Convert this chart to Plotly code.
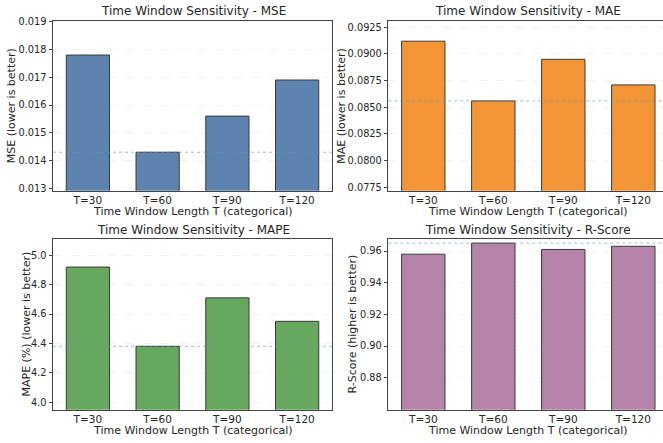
import plotly.graph_objects as go

# ---- data ----
categories = ["T=30", "T=60", "T=90", "T=120"]
mse_values = [0.0178, 0.0143, 0.0156, 0.0169]
mae_values = [0.0912, 0.0856, 0.0895, 0.0871]
mape_values = [4.92, 4.38, 4.71, 4.55]
rscore_values = [0.958, 0.965, 0.961, 0.963]

mse_ticks = [0.013, 0.014, 0.015, 0.016, 0.017, 0.018, 0.019]
mae_ticks = [0.0775, 0.0800, 0.0825, 0.0850, 0.0875, 0.0900, 0.0925]
mape_ticks = [4.0, 4.2, 4.4, 4.6, 4.8, 5.0]
rscore_ticks = [0.88, 0.90, 0.92, 0.94, 0.96]

W, H = 663, 443
FONT = "DejaVu Sans"
TXT = "#262626"


def px(x):
    return x / W


def py(y):
    return 1 - y / H


panels = [
    dict(vals=mse_values, ticks=mse_ticks, fmt=".3f", color="rgba(78,121,167,0.92)",
         yr=[0.012914, 0.019036], title="Time Window Sensitivity - MSE",
         ylab="MSE (lower is better)", best="min",
         xd=[53, 332], yd=[20.7, 190.7], xr=[-0.5, 3.5], ylx=11.5),
    dict(vals=mae_values, ticks=mae_ticks, fmt=".4f", color="rgba(242,142,43,0.95)",
         yr=[0.07718, 0.09312], title="Time Window Sensitivity - MAE",
         ylab="MAE (lower is better)", best="min",
         xd=[388.3, 663], yd=[20.7, 190.7], xr=[-0.5, -0.5 + (663 - 388.3) / 70], ylx=342),
    dict(vals=mape_values, ticks=mape_ticks, fmt=".1f", color="rgba(89,161,79,0.92)",
         yr=[3.948, 5.109], title="Time Window Sensitivity - MAPE",
         ylab="MAPE (%) (lower is better)", best="min",
         xd=[53, 332], yd=[239.3, 409.7], xr=[-0.5, 3.5], ylx=26),
    dict(vals=rscore_values, ticks=rscore_ticks, fmt=".2f", color="rgba(176,122,161,0.92)",
         yr=[0.8598, 0.9674], title="Time Window Sensitivity - R-Score",
         ylab="R-Score (higher is better)", best="max",
         xd=[388.3, 663], yd=[239.3, 409.7], xr=[-0.5, -0.5 + (663 - 388.3) / 70], ylx=352),
]

fig = go.Figure()
annotations = []
shapes = []
layout = {}

for i, p in enumerate(panels, start=1):
    xa = "x" if i == 1 else f"x{i}"
    ya = "y" if i == 1 else f"y{i}"
    fig.add_trace(go.Bar(
        x=categories, y=p["vals"], xaxis=xa, yaxis=ya, width=0.62,
        marker=dict(color=p["color"], line=dict(color="#3a3a3a", width=1)),
        showlegend=False, hoverinfo="x+y",
    ))
    layout[f"xaxis{'' if i == 1 else i}"] = dict(
        domain=[px(p["xd"][0]), px(p["xd"][1])], anchor=ya,
        range=p["xr"], type="category", automargin=False,
        showline=True, linecolor="#444", linewidth=1, mirror=True,
        ticks="", showgrid=False, tickfont=dict(family=FONT, size=10.5, color=TXT),
    )
    layout[f"yaxis{'' if i == 1 else i}"] = dict(
        domain=[py(p["yd"][1]), py(p["yd"][0])], anchor=xa,
        range=p["yr"], tickvals=p["ticks"], tickformat=p["fmt"], automargin=False,
        showline=True, linecolor="#444", linewidth=1, mirror=True,
        ticks="outside", ticklen=3.5, tickcolor="#444",
        showgrid=True, gridcolor="rgba(0,0,0,0.05)", griddash="dash", gridwidth=1,
        zeroline=False, tickfont=dict(family=FONT, size=9.8, color=TXT),
    )
    cx = p["xd"][0] + 140
    annotations.append(dict(
        text=p["title"], x=px(cx), y=py(p["yd"][0] - 9.5), xref="paper", yref="paper",
        xanchor="center", yanchor="middle", showarrow=False,
        font=dict(family=FONT, size=12, color=TXT),
    ))
    annotations.append(dict(
        text="Time Window Length T (categorical)", x=px(cx), y=py(p["yd"][1] + 20.5),
        xref="paper", yref="paper", xanchor="center", yanchor="middle", showarrow=False,
        font=dict(family=FONT, size=11, color=TXT),
    ))
    annotations.append(dict(
        text=p["ylab"], x=px(p["ylx"]), y=py((p["yd"][0] + p["yd"][1]) / 2),
        xref="paper", yref="paper", xanchor="center", yanchor="middle", showarrow=False,
        textangle=-90, font=dict(family=FONT, size=11, color=TXT),
    ))
    best = min(p["vals"]) if p["best"] == "min" else max(p["vals"])
    shapes.append(dict(
        type="line", xref=f"{xa} domain", yref=ya, x0=0, x1=1, y0=best, y1=best,
        line=dict(color="rgba(100,155,185,0.65)", width=1, dash="dot"), layer="above",
    ))

fig.update_layout(
    width=W, height=H, margin=dict(l=0, r=0, t=0, b=0, autoexpand=False),
    paper_bgcolor="white", plot_bgcolor="white",
    annotations=annotations, shapes=shapes, bargap=0.38,
    font=dict(family=FONT, color=TXT),
    **layout,
)

fig.write_html(
    "out.html",
    config={"displayModeBar": False},
    post_script="document.body.style.margin='0';document.body.style.overflow='hidden';",
)
